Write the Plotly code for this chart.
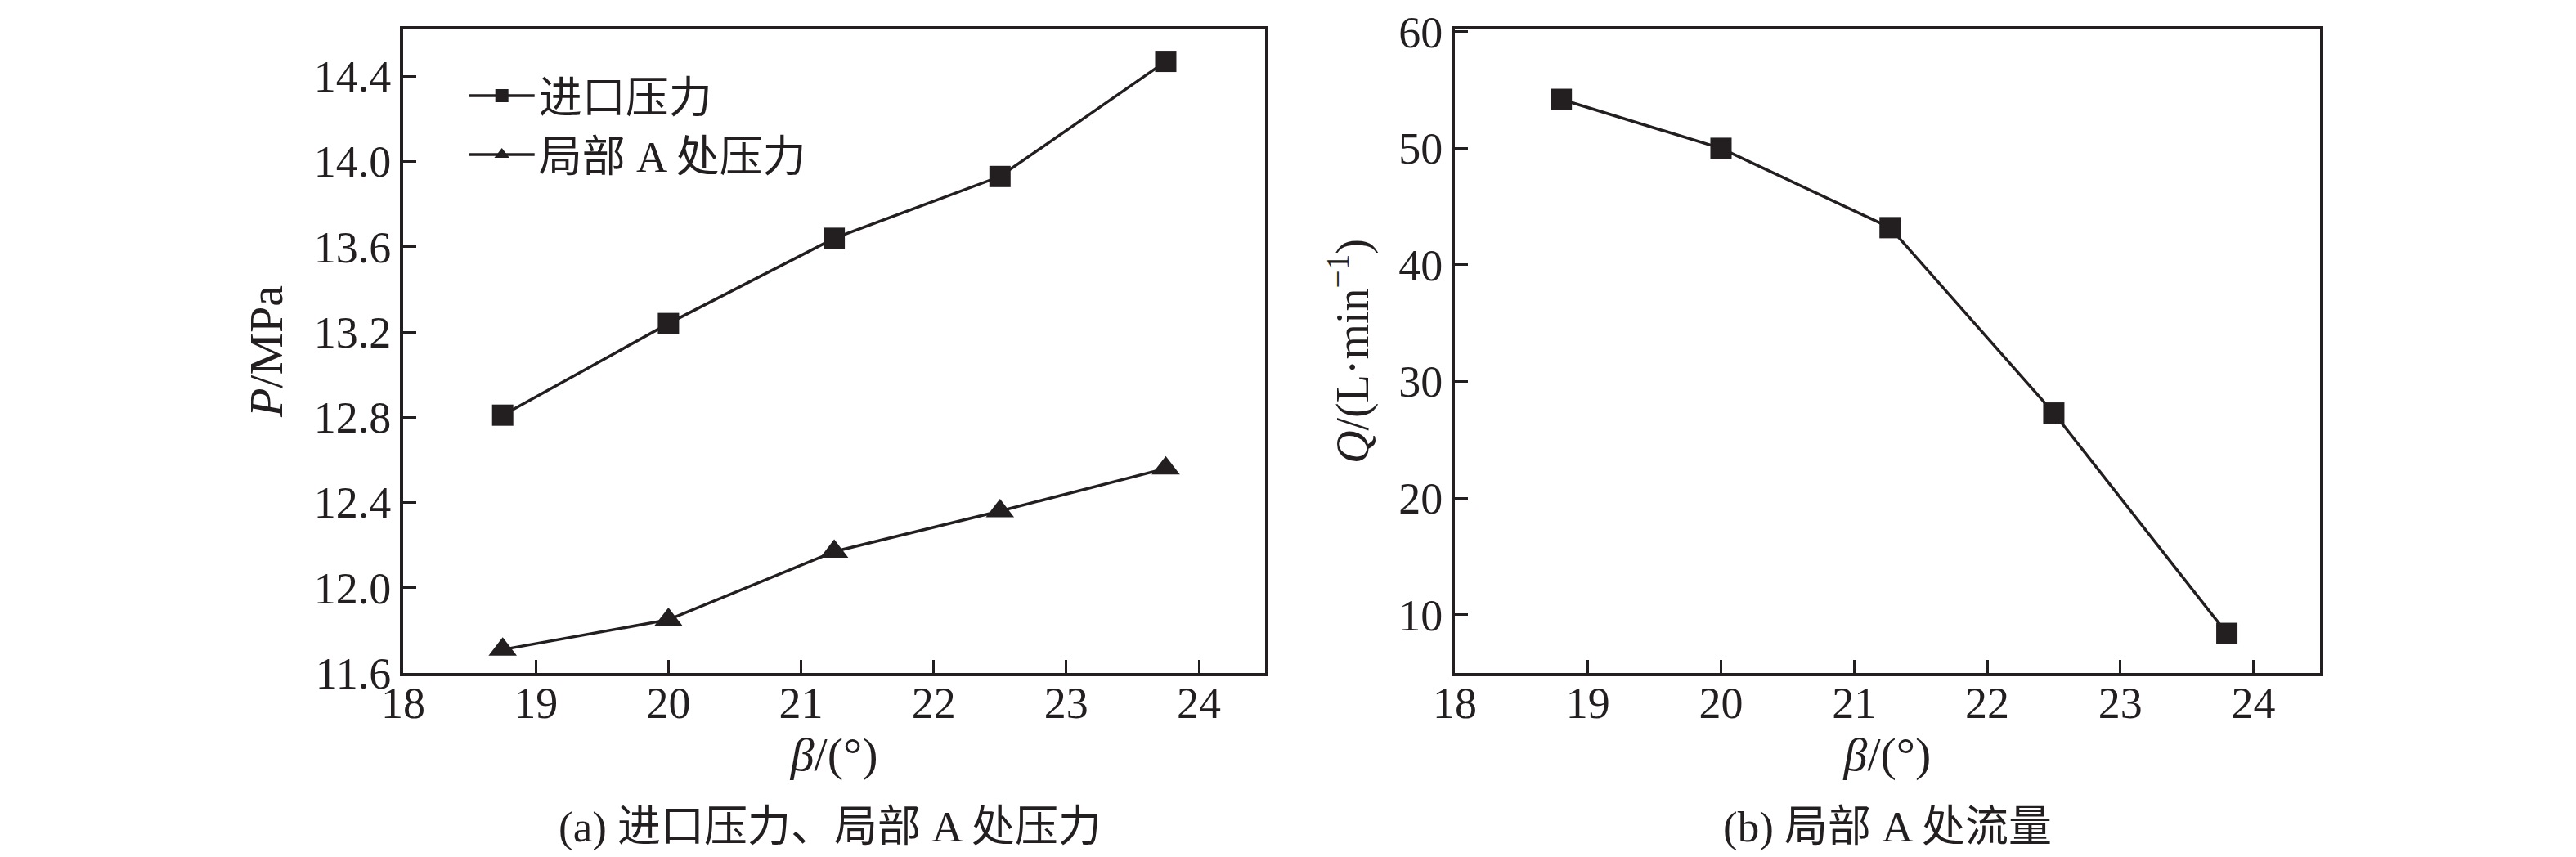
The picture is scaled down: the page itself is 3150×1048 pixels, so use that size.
import plotly.graph_objects as go
from plotly.subplots import make_subplots

# data
beta_a = [18.75, 20.0, 21.25, 22.5, 23.75]
p_inlet = [12.81, 13.24, 13.64, 13.93, 14.47]
p_local = [11.71, 11.85, 12.17, 12.36, 12.56]

beta_b = [18.8, 20.0, 21.27, 22.5, 23.8]
q_local = [54.2, 50.0, 43.2, 27.3, 8.4]

x_ticks = [18, 19, 20, 21, 22, 23, 24]
p_ticks = [11.6, 12.0, 12.4, 12.8, 13.2, 13.6, 14.0, 14.4]
q_ticks = [10, 20, 30, 40, 50, 60]

ink = '#231f20'
serif = 'Liberation Serif, Noto Sans CJK SC'

fig = make_subplots(rows=1, cols=2)

fig.add_trace(go.Scatter(
    x=beta_a, y=p_inlet, mode='lines+markers', name='进口压力',
    line=dict(color=ink, width=3.5),
    marker=dict(symbol='square', size=26, color=ink)
), row=1, col=1)
fig.add_trace(go.Scatter(
    x=beta_a, y=p_local, mode='lines+markers', name='局部 A 处压力',
    line=dict(color=ink, width=3.5),
    marker=dict(symbol='triangle-up', size=30, color=ink)
), row=1, col=1)
fig.add_trace(go.Scatter(
    x=beta_b, y=q_local, mode='lines+markers', name='局部 A 处流量',
    line=dict(color=ink, width=3.5),
    marker=dict(symbol='square', size=26, color=ink),
    showlegend=False
), row=1, col=2)

axis_style = dict(
    showline=True, linecolor=ink, linewidth=4, mirror=True,
    ticks='inside', ticklen=16, tickwidth=3, tickcolor=ink,
    showgrid=False, zeroline=False, automargin=False,
    tickfont=dict(family=serif, size=54, color=ink),
)

fig.update_xaxes(**axis_style, ticklabelstandoff=-14)
fig.update_yaxes(**axis_style, ticklabelstandoff=0)

for col in (1, 2):
    fig.update_xaxes(
        range=[18, 24.5], tickvals=x_ticks,
        title=dict(text='<i>β</i>/(°)', font=dict(family=serif, size=58, color=ink), standoff=14),
        row=1, col=col)

fig.update_yaxes(range=[11.6, 14.62], tickvals=p_ticks, tickformat='.1f',
                 title=dict(text='<i>P</i>/MPa', font=dict(family=serif, size=58, color=ink), standoff=20),
                 row=1, col=1)
fig.update_yaxes(range=[5, 60.2], tickvals=q_ticks,
                 title=dict(text='<i>Q</i>/(L·min<sup>−1</sup>)', font=dict(family=serif, size=56, color=ink), standoff=20),
                 row=1, col=2)

fig.update_layout(
    template='none',
    width=3150, height=1048,
    margin=dict(l=0, r=0, t=0, b=0, autoexpand=False),
    plot_bgcolor='white', paper_bgcolor='white',
    font=dict(family=serif, color=ink),
    xaxis=dict(domain=[0.154, 0.4886]),
    xaxis2=dict(domain=[0.5622, 0.8981]),
    yaxis=dict(domain=[0.2223, 0.9733]),
    yaxis2=dict(domain=[0.2223, 0.9733]),
    legend=dict(x=0.178, y=0.935, xanchor='left', yanchor='top',
                font=dict(family=serif, size=53, color=ink),
                bgcolor='rgba(0,0,0,0)', borderwidth=0, tracegroupgap=0,
                itemwidth=80),
    showlegend=True,
)

captions = [('(a) 进口压力、局部 A 处压力', 0.3197), ('(b) 局部 A 处流量', 0.7302)]
for text, xc in captions:
    fig.add_annotation(text=text, x=xc, y=0.042, xref='paper', yref='paper',
                       xanchor='center', yanchor='middle', showarrow=False,
                       font=dict(family=serif, size=53, color=ink))

fig.write_html('out.html')
